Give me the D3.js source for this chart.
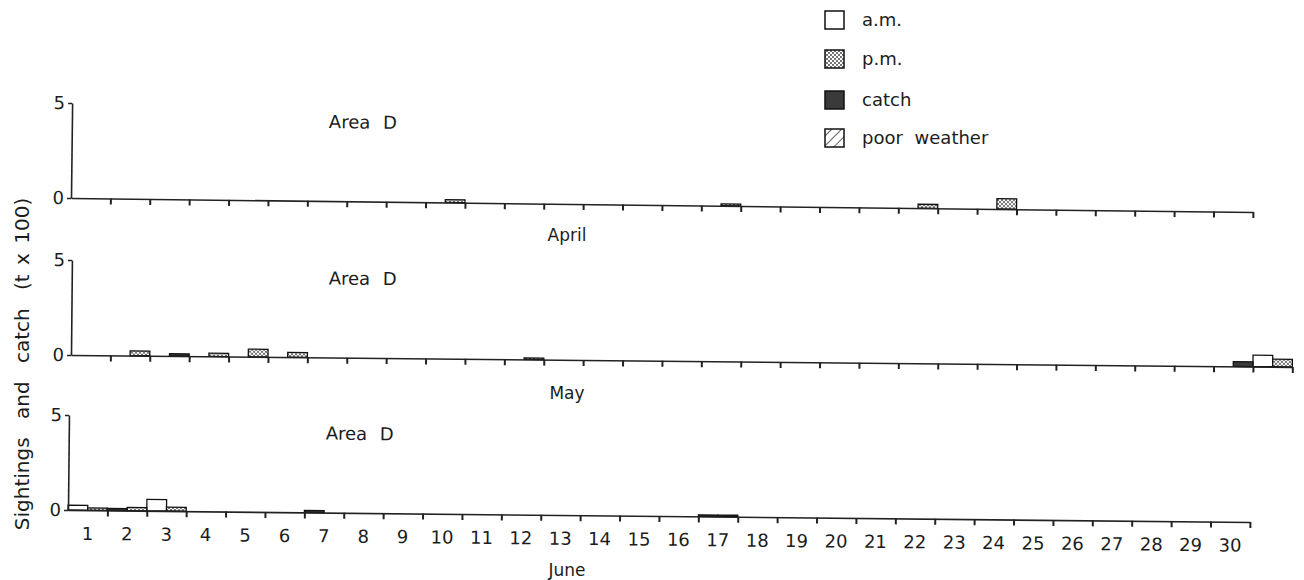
<!DOCTYPE html>
<html>
<head>
<meta charset="utf-8">
<script src="https://cdnjs.cloudflare.com/ajax/libs/d3/7.8.5/d3.min.js"></script>
<style>
  body { margin: 0; background: #fff; }
  text { font-family: "DejaVu Sans", sans-serif; fill: #1c1c1c; }
</style>
</head>
<body>
<div id="chart"></div>
<script>

// months and axis values
var months = ['April', 'May', 'June'];
var daysInMonth = [30, 31, 30];
var panelTitle = 'Area D';
var yTicks = [0, 5];
var yLabel = 'Sightings and catch';
var yUnit = '(t x 100)';
var legendLabels = ['a.m.', 'p.m.', 'catch', 'poor weather'];

// sightings and catch per half day, [day, t x 100]
var aprilAm = [];
var aprilPm = [[10, 0.15], [17, 0.1], [22, 0.2], [24, 0.55]];
var aprilCatchAm = [];
var aprilCatchPm = [];
var aprilWeather = [];

var mayAm = [[31, 0.6]];
var mayPm = [[2, 0.25], [4, 0.17], [5, 0.4], [6, 0.25], [12, 0.08], [31, 0.4]];
var mayCatchAm = [];
var mayCatchPm = [[3, 0.12], [30, 0.25]];
var mayWeather = [];

var juneAm = [[1, 0.25], [3, 0.6]];
var junePm = [[1, 0.12], [2, 0.17], [3, 0.2]];
var juneCatchAm = [[2, 0.1], [7, 0.1], [17, 0.08]];
var juneCatchPm = [[17, 0.08]];
var juneWeather = [];

var monthSeries = [
  { am: aprilAm, pm: aprilPm, catchAm: aprilCatchAm, catchPm: aprilCatchPm, weather: aprilWeather },
  { am: mayAm, pm: mayPm, catchAm: mayCatchAm, catchPm: mayCatchPm, weather: mayWeather },
  { am: juneAm, pm: junePm, catchAm: juneCatchAm, catchPm: juneCatchPm, weather: juneWeather }
];

// layout (the scan is slightly tilted)
var attrs = {
  svgWidth: 1304,
  svgHeight: 580,
  dayWidth: 39.4,
  fiveHeight: 95,
  monthLabelX: 567,
  panels: [
    { x: 71, y: 198, tilt: 0.68, monthY: 241, dayLabels: false },
    { x: 71, y: 355, tilt: 0.56, monthY: 399, dayLabels: false },
    { x: 68, y: 510, tilt: 0.58, monthY: 576, dayLabels: true }
  ]
};

var svg = d3.select('#chart')
  .append('svg')
  .attr('width', attrs.svgWidth)
  .attr('height', attrs.svgHeight);

// fill patterns
var defs = svg.append('defs');
var stipple = defs.append('pattern')
  .attr('id', 'stipple')
  .attr('patternUnits', 'userSpaceOnUse')
  .attr('width', 4).attr('height', 4);
stipple.append('rect').attr('width', 4).attr('height', 4).attr('fill', '#fff');
stipple.append('circle').attr('cx', 1).attr('cy', 1).attr('r', 0.9).attr('fill', '#333');
stipple.append('circle').attr('cx', 3).attr('cy', 3).attr('r', 0.9).attr('fill', '#333');

var hatch = defs.append('pattern')
  .attr('id', 'hatch')
  .attr('patternUnits', 'userSpaceOnUse')
  .attr('width', 7).attr('height', 7)
  .attr('patternTransform', 'rotate(45)');
hatch.append('rect').attr('width', 7).attr('height', 7).attr('fill', '#fff');
hatch.append('line').attr('x1', 0).attr('y1', 0).attr('x2', 0).attr('y2', 7)
  .attr('stroke', '#222').attr('stroke-width', 1.4);

var fills = { am: '#fff', pm: 'url(#stipple)', catchAm: '#3a3a3a', catchPm: '#3a3a3a', weather: 'url(#hatch)' };
var halves = { am: 'am', pm: 'pm', catchAm: 'am', catchPm: 'pm', weather: 'am' };

var y = d3.scaleLinear().domain([0, 5]).range([0, -attrs.fiveHeight]);

attrs.panels.forEach(function (p, i) {
  var n = daysInMonth[i];
  var days = d3.range(1, n + 1);

  var xDay = d3.scaleBand().domain(days).range([0, n * attrs.dayWidth]).padding(0);
  var xHalf = d3.scaleBand().domain(['am', 'pm']).range([0, xDay.bandwidth()]).padding(0);
  var xLin = d3.scaleLinear().domain([0, n]).range([0, n * attrs.dayWidth]);

  var g = svg.append('g')
    .attr('class', 'panel')
    .attr('transform', 'translate(' + p.x + ',' + p.y + ') rotate(' + p.tilt + ')');

  // bars
  var series = monthSeries[i];
  Object.keys(series).forEach(function (key) {
    g.selectAll('.bar-' + key)
      .data(series[key])
      .enter()
      .append('rect')
      .attr('class', 'bar-' + key)
      .attr('x', function (d) { return xDay(d[0]) + xHalf(halves[key]); })
      .attr('width', xHalf.bandwidth())
      .attr('y', function (d) { return y(d[1]); })
      .attr('height', function (d) { return y(0) - y(d[1]); })
      .attr('fill', fills[key])
      .attr('stroke', '#111')
      .attr('stroke-width', 1.3);
  });

  // x axis with day ticks
  var xAxis = d3.axisBottom(xLin).tickValues(days).tickSize(6).tickSizeOuter(0).tickFormat('');
  var gx = g.append('g').attr('class', 'xaxis').call(xAxis);
  gx.select('.domain').attr('stroke', '#222').attr('stroke-width', 1.6);
  gx.selectAll('.tick line').attr('stroke', '#222').attr('stroke-width', 2);

  if (p.dayLabels) {
    var gl = g.append('g').attr('class', 'daylabels')
      .call(d3.axisBottom(xDay).tickSize(0).tickPadding(17));
    gl.select('.domain').remove();
    gl.selectAll('text').attr('font-size', 18).attr('fill', '#1c1c1c');
  }

  // y axis
  var yAxis = d3.axisLeft(y).tickValues(yTicks).tickFormat(d3.format('d'))
    .tickSize(4).tickSizeOuter(0).tickPadding(3);
  var gy = g.append('g').attr('class', 'yaxis').call(yAxis);
  gy.select('.domain').attr('stroke', '#222').attr('stroke-width', 1.6);
  gy.selectAll('.tick line').attr('stroke', '#222').attr('stroke-width', 1.4);
  gy.selectAll('text').attr('font-size', 18).attr('fill', '#1c1c1c');

  g.append('text')
    .attr('x', 257)
    .attr('y', -73)
    .attr('font-size', 18)
    .attr('word-spacing', 7)
    .text(panelTitle);

  svg.append('text')
    .attr('x', attrs.monthLabelX)
    .attr('y', p.monthY)
    .attr('text-anchor', 'middle')
    .attr('font-size', 17)
    .text(months[i]);
});

// y axis title
var yTitle = svg.append('text')
  .attr('transform', 'translate(29,364) rotate(-90)')
  .attr('text-anchor', 'middle')
  .attr('font-size', 20);
yTitle.append('tspan').attr('word-spacing', 12).text(yLabel + ' ');
yTitle.append('tspan').attr('word-spacing', 3).text(yUnit);

// legend
var legendRows = [20, 59, 100, 138];
var legendFills = ['#fff', 'url(#stipple)', '#3a3a3a', 'url(#hatch)'];
var legend = svg.append('g').attr('class', 'legend');
legend.selectAll('rect')
  .data(legendLabels)
  .enter()
  .append('rect')
  .attr('x', 825)
  .attr('y', function (d, i) { return legendRows[i] - 9; })
  .attr('width', 19)
  .attr('height', 18)
  .attr('fill', function (d, i) { return legendFills[i]; })
  .attr('stroke', '#111')
  .attr('stroke-width', 1.5);
legend.selectAll('text')
  .data(legendLabels)
  .enter()
  .append('text')
  .attr('x', 862)
  .attr('y', function (d, i) { return legendRows[i] + 6; })
  .attr('font-size', 18)
  .attr('word-spacing', 6)
  .text(function (d) { return d; });

</script>
</body>
</html>
